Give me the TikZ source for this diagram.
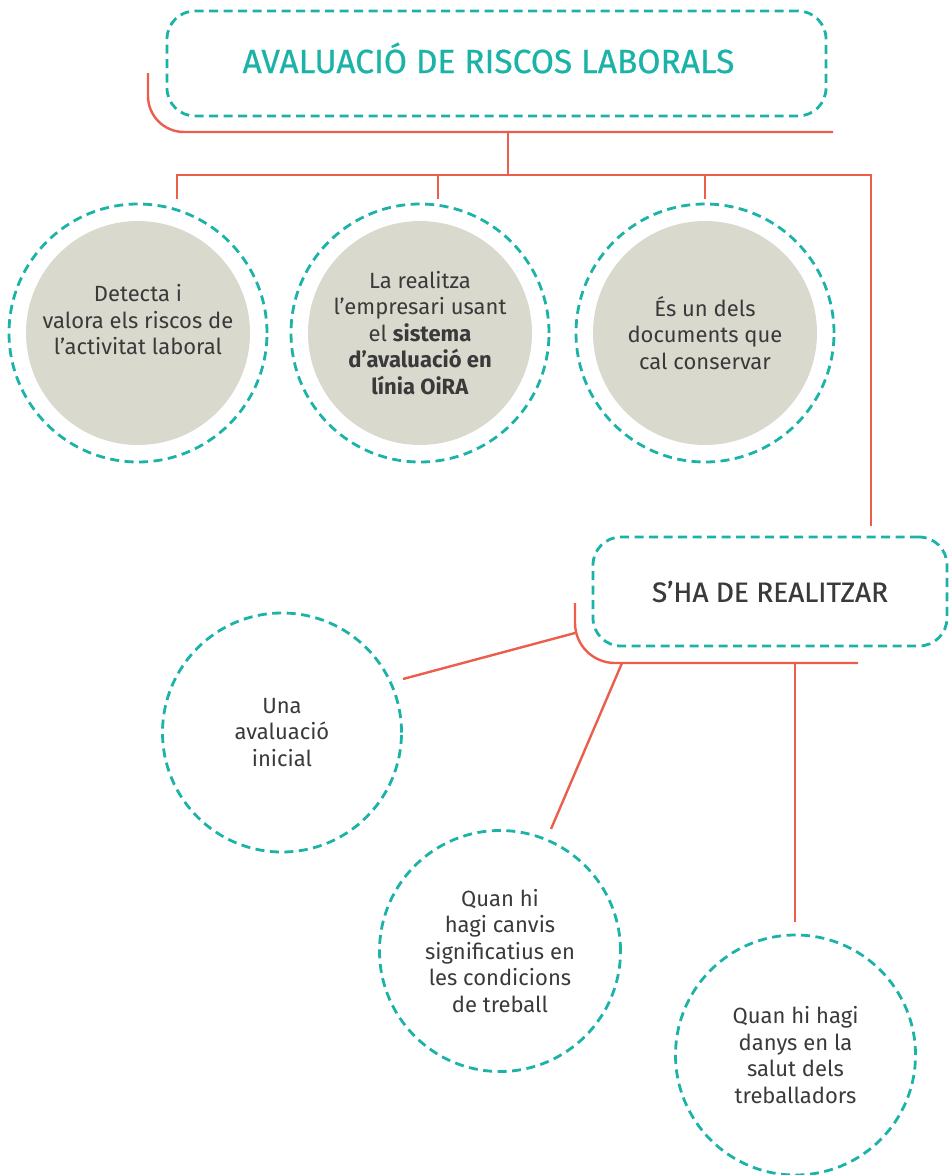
\documentclass[tikz,border=0pt]{standalone}
\usepackage{fontspec}
\setmainfont{Fira Sans}
\newfontfamily\medfont{Fira Sans}[FakeBold=0.6]
\definecolor{tealc}{HTML}{1BB3A7}
\definecolor{redc}{HTML}{EA5E4B}
\definecolor{grayc}{HTML}{D9D9CE}
\definecolor{txtc}{HTML}{3A3A3A}
\begin{document}
\begin{tikzpicture}[x=1pt,y=-1pt,
  dashln/.style={draw=tealc, line width=2.8pt, dash pattern=on 9pt off 5.5pt},
  redln/.style={draw=redc, line width=2.4pt},
  ctext/.style={text=txtc, align=center, font=\fontsize{22}{26.5}\selectfont},
  ring/.style={circle, dashln, minimum size=#1, inner sep=0pt, ctext},
  ring/.default=258pt,
  filledring/.style={ring, path picture={\fill[grayc] (path picture bounding box.center) circle (112pt);}},
  boxnode/.style={rectangle, rounded corners=28pt, dashln, inner sep=0pt}
]
\useasboundingbox (0,0) rectangle (952,1175);

% title box
\node[boxnode, minimum width=659pt, minimum height=105pt] (titlebox) at (496.5,63.5) {};
\node[text=tealc, font=\medfont\fontsize{33.5}{34}\selectfont] (title) at (488.5,58) {AVALUACIÓ DE RISCOS LABORALS};

% top circles
\node[filledring] (c1) at (138,333) {Detecta i\\valora els riscos de\\l’activitat laboral\\\mbox{}};
\node[filledring] (c2) at (420,333) {La realitza\\l’empresari usant\\el \textbf{sistema}\\\textbf{d’avaluació en}\\\textbf{línia OiRA}};
\node[filledring] (c3) at (705,333) {És un dels\\documents que\\cal conservar};

% second box
\node[boxnode, minimum width=354pt, minimum height=109pt, text=txtc, font=\medfont\fontsize{28}{28.5}\selectfont] (realbox) at (770,591.5) {S’HA DE REALITZAR};

% lower circles
\node[ring=239pt] (c4) at (282,732.5) {Una\\avaluació\\inicial};
\node[ring=241pt] (c5) at (500,951) {Quan hi\\hagi canvis\\significatius en\\les condicions\\de treball};
\node[ring=240pt] (c6) at (795.5,1055) {Quan hi hagi\\danys en la\\salut dels\\treballadors};

% connector coordinates
\coordinate (t0) at (148,73);
\coordinate (t1) at (833,132);
\coordinate (tm) at (508,132);
\coordinate (bm) at (508,175);
\coordinate (b1) at (177,199);
\coordinate (b2) at (438,199);
\coordinate (b3) at (705,199);
\coordinate (bR) at (871,175);
\coordinate (bRe) at (871,526);
\coordinate (r0) at (575,603);
\coordinate (r1) at (858,663);
\coordinate (ra) at (575,633);
\coordinate (rb) at (622,663);
\coordinate (rc) at (795,663);
\coordinate (e4) at (403,679);
\coordinate (e5) at (551,829);
\coordinate (e6) at (795,922);

% red connectors
\draw[redln, rounded corners=36pt] (t0) |- (t1);
\draw[redln] (tm) -- (bm);
\draw[redln] (b1) |- (bR) -- (bRe);
\draw[redln] (b2) -- (b2 |- bR);
\draw[redln] (b3) -- (b3 |- bR);
\draw[redln, rounded corners=40pt] (r0) |- (r1);
\draw[redln] (ra) -- (e4);
\draw[redln] (rb) -- (e5);
\draw[redln] (rc) -- (e6);
\end{tikzpicture}
\end{document}
